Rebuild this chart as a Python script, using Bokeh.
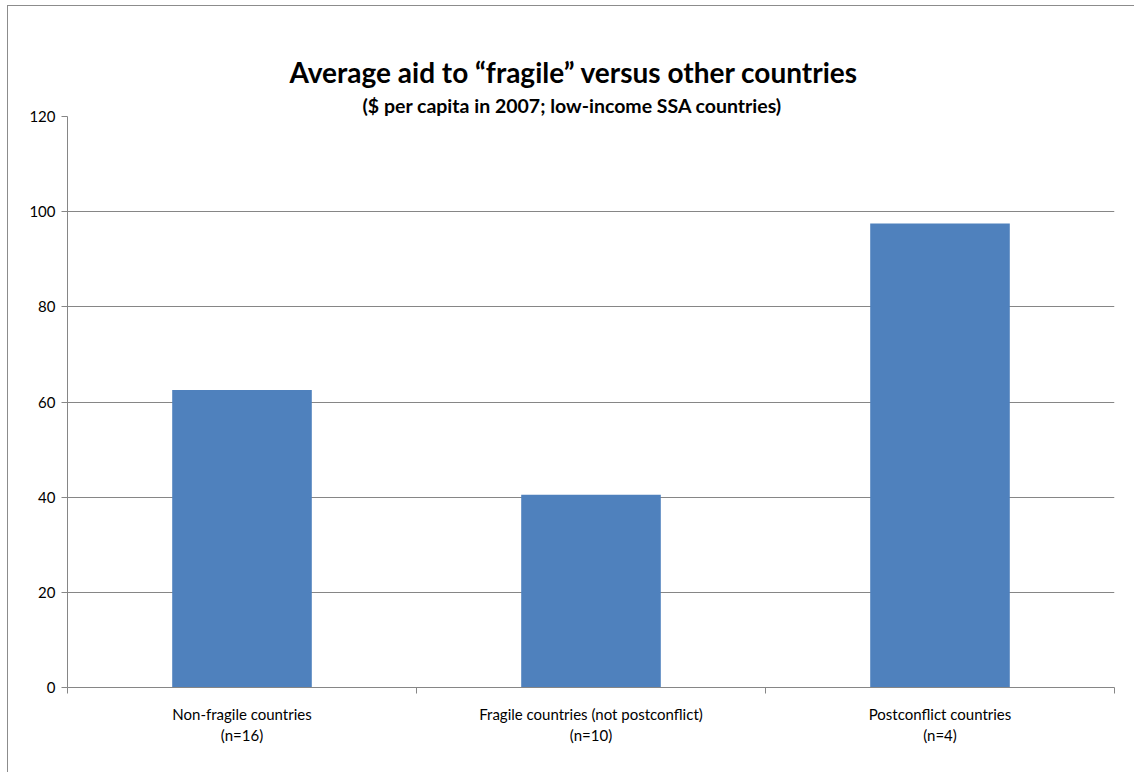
from bokeh.plotting import figure
from bokeh.models import (Title, LinearAxis, FixedTicker, Range1d, ColumnDataSource)
from bokeh.embed import file_html
from bokeh.resources import INLINE

title_text = "Average aid to \u201cfragile\u201d versus other countries"
subtitle_text = "($ per capita in 2007; low-income SSA countries)"
categories = ["Non-fragile countries\n(n=16)",
              "Fragile countries (not postconflict)\n(n=10)",
              "Postconflict countries\n(n=4)"]
values = [62.5, 40.5, 97.5]
y_ticks = [0, 20, 40, 60, 80, 100, 120]

FONT = "Lato"
GRAY = "#868686"

xpos = [i + 0.5 for i in range(len(categories))]
bounds = list(range(len(categories) + 1))
src = ColumnDataSource(dict(x=xpos, val=values))

p = figure(width=1127, height=767, output_backend="svg", toolbar_location=None,
           x_range=Range1d(0, len(categories)),
           y_range=Range1d(0, 120),
           x_axis_location=None, y_axis_location=None,
           min_border_left=59, min_border_right=21, min_border_top=110,
           min_border_bottom=86)
p.styles = {"margin-left": "7px", "margin-top": "5px",
            "border-left": "1px solid #8c8c8c", "border-top": "1px solid #8c8c8c"}
p.outline_line_color = None
p.background_fill_color = "white"
p.border_fill_color = "white"

p.vbar(x="x", top="val", width=0.4, source=src, fill_color="#4F81BD",
       line_color=None)

p.xgrid.visible = False
p.ygrid.ticker = FixedTicker(ticks=y_ticks)
p.ygrid.grid_line_color = GRAY
p.ygrid.grid_line_width = 1

# y axis
yax = LinearAxis(ticker=FixedTicker(ticks=y_ticks))
yax.axis_line_color = GRAY
yax.major_tick_line_color = GRAY
yax.major_tick_out = 6
yax.major_tick_in = 0
yax.minor_tick_line_color = None
yax.major_label_text_font = FONT
yax.major_label_text_font_size = "15px"
yax.major_label_text_color = "black"
yax.major_label_standoff = 6
p.add_layout(yax, "left")

# category axis: labels at centres, ticks (minor) at boundaries
cax = LinearAxis(ticker=FixedTicker(ticks=xpos, minor_ticks=bounds),
                 major_label_overrides={x: c for x, c in zip(xpos, categories)})
cax.axis_line_color = GRAY
cax.major_tick_line_color = None
cax.minor_tick_line_color = GRAY
cax.minor_tick_out = 6
cax.minor_tick_in = 0
cax.major_label_text_font = FONT
cax.major_label_text_font_size = "15px"
cax.major_label_text_color = "black"
cax.major_label_standoff = 11
p.add_layout(cax, "below")

# invisible spacer between the plot area and the subtitle (no ticks, no labels)
spacer = LinearAxis(ticker=FixedTicker(ticks=[], minor_ticks=[]))
spacer.axis_line_color = None
spacer.major_tick_line_color = None
spacer.minor_tick_line_color = None
spacer.major_tick_out = 31
spacer.major_tick_in = 0
spacer.minor_tick_out = 0
spacer.minor_tick_in = 0
spacer.major_label_standoff = 0
p.add_layout(spacer, "above")

sub = Title(text=subtitle_text, align="left", offset=295,
            text_font=FONT, text_font_size="19.5px", text_font_style="bold",
            text_color="black", standoff=0)
p.add_layout(sub, "above")
main = Title(text=title_text, align="left", offset=222,
             text_font=FONT, text_font_size="28px", text_font_style="bold",
             text_color="black", standoff=6)
p.add_layout(main, "above")

open("out.html", "w").write(file_html(p, INLINE))
